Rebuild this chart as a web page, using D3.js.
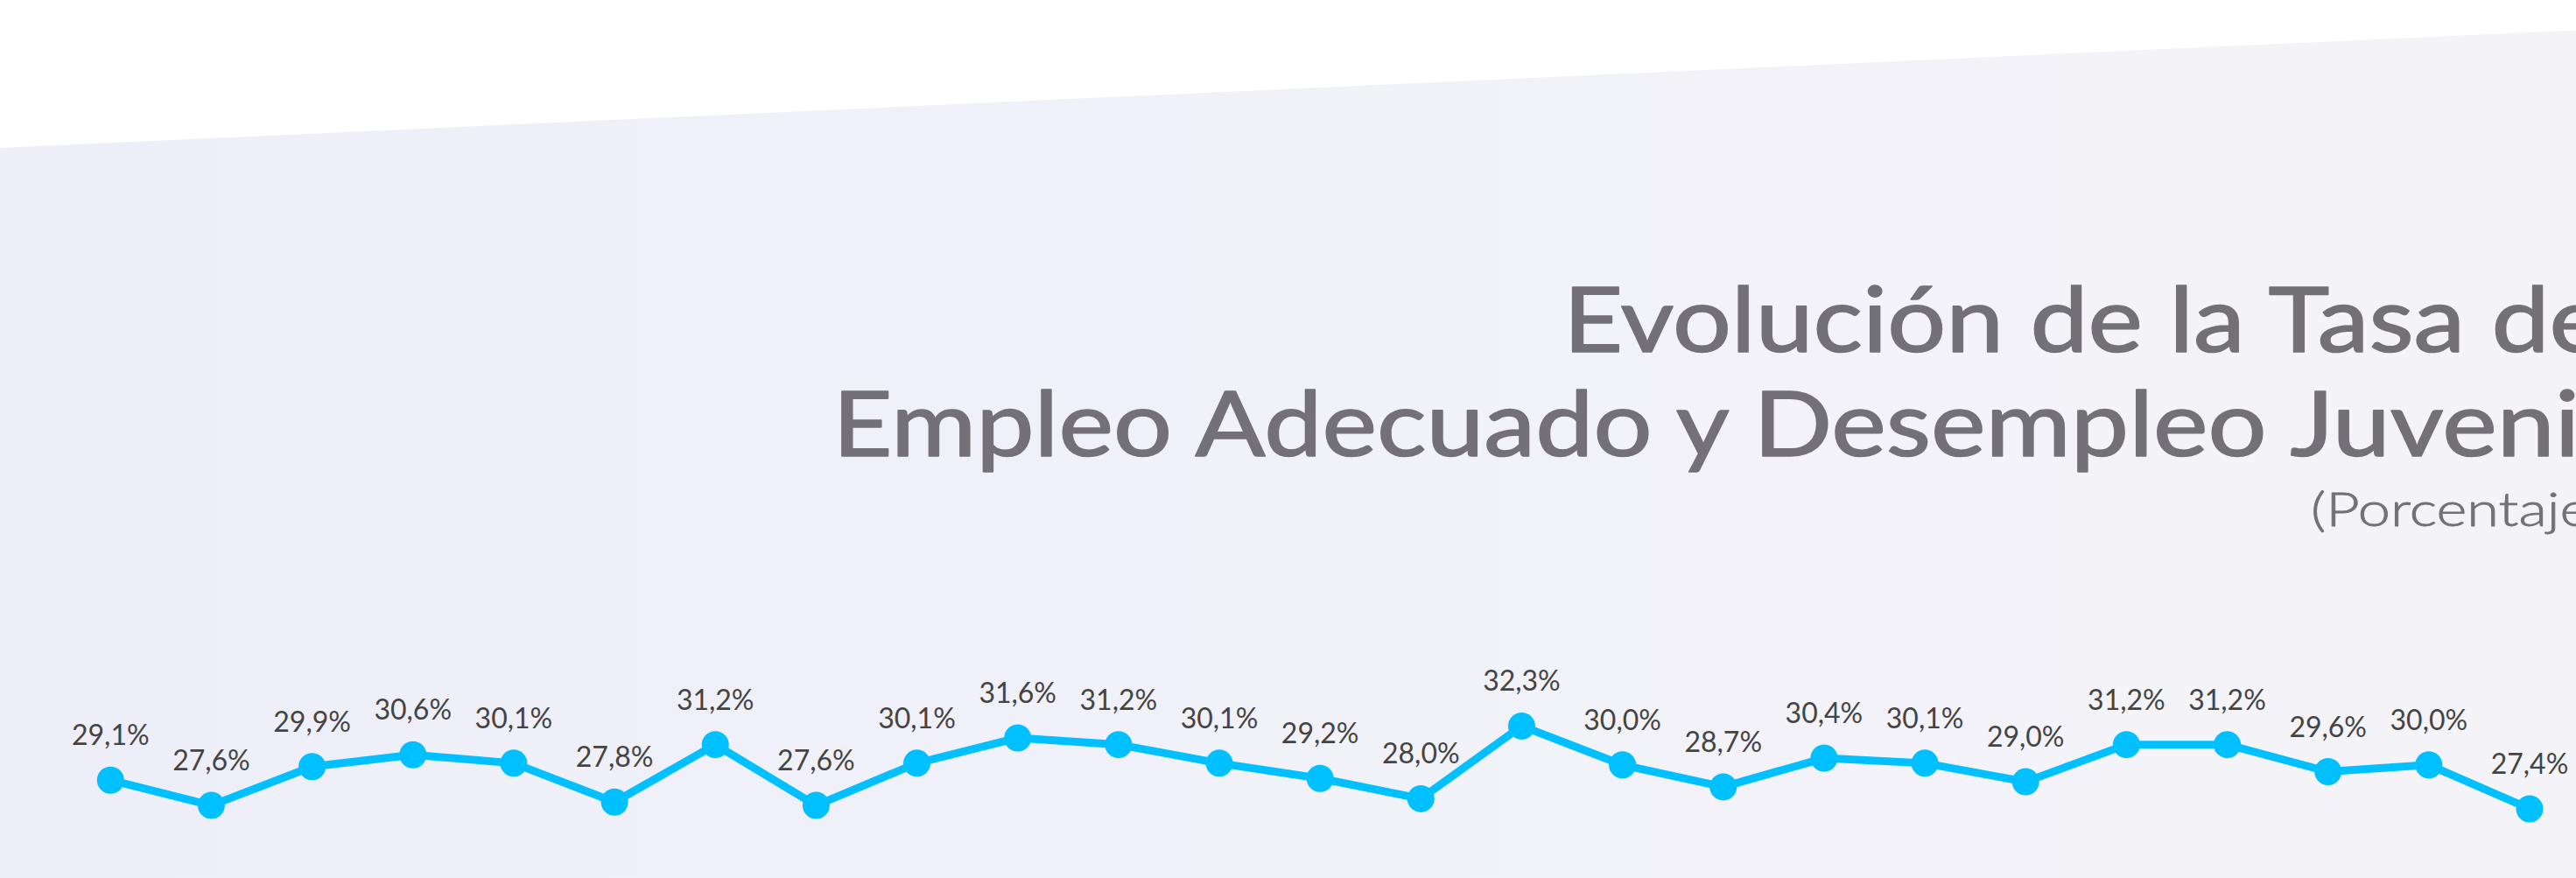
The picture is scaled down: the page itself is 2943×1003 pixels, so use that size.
<!DOCTYPE html>
<html>
<head>
<meta charset="utf-8">
<script src="https://cdn.jsdelivr.net/npm/d3@7"></script>
<style>
  html, body { margin: 0; padding: 0; background: #ffffff; overflow: hidden; }
  svg { display: block; }
</style>
</head>
<body>
<div id="chart"></div>
<script>
// ---- data ----
const periods = ["P1","P2","P3","P4","P5","P6","P7","P8","P9","P10","P11","P12","P13",
                 "P14","P15","P16","P17","P18","P19","P20","P21","P22","P23","P24","P25"];
const values = [29.1, 27.6, 29.9, 30.6, 30.1, 27.8, 31.2, 27.6, 30.1, 31.6, 31.2, 30.1, 29.2,
                28.0, 32.3, 30.0, 28.7, 30.4, 30.1, 29.0, 31.2, 31.2, 29.6, 30.0, 27.4];
const titleLines = ["Evolución de la Tasa de", "Empleo Adecuado y Desempleo Juvenil"];
const subtitle = "(Porcentaje)";

const W = 2943, H = 1003;
const svg = d3.select("#chart").append("svg").attr("width", W).attr("height", H);

// background gradient panel
const defs = svg.append("defs");
const grad = defs.append("linearGradient").attr("id", "bg").attr("x1", "0").attr("x2", "1").attr("y1", "0").attr("y2", "0");
grad.append("stop").attr("offset", "0%").attr("stop-color", "#eeeef8");
grad.append("stop").attr("offset", "100%").attr("stop-color", "#f4f4f8");
svg.append("path")
  .attr("d", `M0,169 L${W},34.5 L${W},${H} L0,${H} Z`)
  .attr("fill", "url(#bg)");

// titles: fixed size, horizontally stretched to the reference's wide letterforms
const titleFont = "Lato, 'Open Sans', sans-serif";
const rightX = 2975;
function fitted(text, yPos, size, weight, leftX, strokeW) {
  const g = svg.append("g").attr("transform", `translate(${rightX},${yPos})`);
  const t = g.append("text")
    .attr("x", 0).attr("y", 0)
    .attr("text-anchor", "end")
    .attr("font-family", titleFont).attr("font-weight", weight)
    .attr("font-size", size).attr("fill", "#737077")
    .attr("stroke", strokeW ? "#737077" : "none")
    .attr("stroke-width", strokeW || 0)
    .attr("stroke-linejoin", "round")
    .text(text);
  const natural = t.node().getComputedTextLength();
  const sx = (rightX - leftX) / natural;
  t.attr("transform", `scale(${sx},1)`);
  return t;
}
fitted(titleLines[0], 401.7, 102, 400, 1786, 1.6);
fitted(titleLines[1], 521, 102, 400, 951, 1.6);
fitted(subtitle, 600.7, 53, 300, 2640, 0.8);

// scales
const x = d3.scalePoint().domain(periods).range([126.3, 2890]).padding(0);
const y = d3.scaleLinear().domain([25, 35]).range([970.3, 777.3]);

const data = periods.map((p, i) => ({ p, v: values[i] }));

svg.append("path")
  .datum(data)
  .attr("fill", "none")
  .attr("stroke", "#00c0ff")
  .attr("stroke-width", 9)
  .attr("stroke-linejoin", "round")
  .attr("d", d3.line().x(d => x(d.p)).y(d => y(d.v)));

svg.selectAll("circle.pt")
  .data(data).enter().append("circle")
  .attr("class", "pt")
  .attr("cx", d => x(d.p)).attr("cy", d => y(d.v))
  .attr("r", 15.5)
  .attr("fill", "#00c0ff");

const fmt = v => v.toFixed(1).replace(".", ",") + "%";
svg.selectAll("text.lbl")
  .data(data).enter().append("text")
  .attr("class", "lbl")
  .attr("x", d => x(d.p)).attr("y", d => y(d.v) - 40)
  .attr("text-anchor", "middle")
  .attr("font-family", "Lato, sans-serif")
  .attr("font-size", 32)
  .attr("fill", "#444444")
  .text(d => fmt(d.v));
</script>
</body>
</html>
